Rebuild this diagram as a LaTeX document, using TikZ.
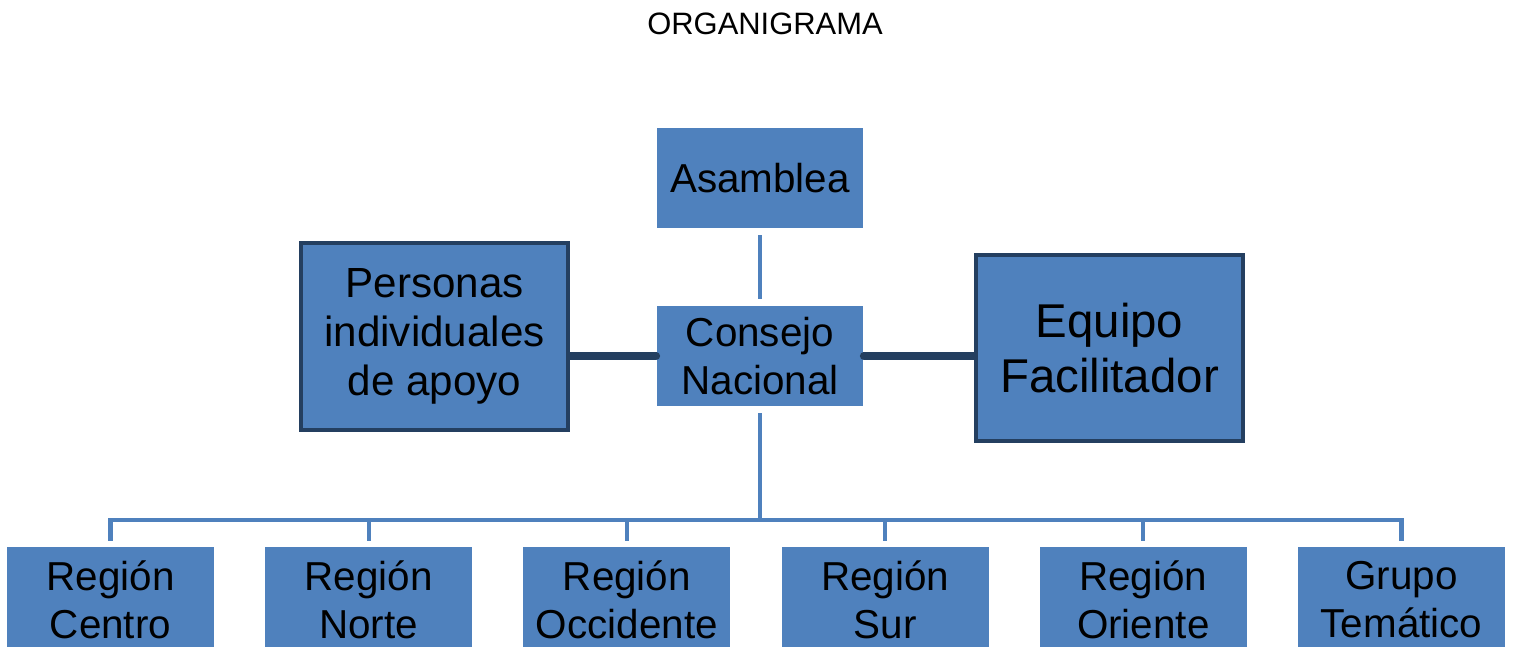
\documentclass[tikz,border=0pt]{standalone}
\usepackage{fontspec}
\setmainfont{Liberation Sans}
\usepackage{tikz}
\definecolor{boxblue}{HTML}{4F81BD}
\definecolor{boxdark}{HTML}{243F60}

\begin{document}
\begin{tikzpicture}[x=0.02cm, y=-0.02cm,
  unit/.style={fill=boxblue, anchor=center, align=center, inner sep=0pt, minimum width=4.14cm, minimum height=2cm, font=\fontsize{23}{27.2}\selectfont},
  side/.style={fill=boxblue, draw=boxdark, line width=2.3pt, align=center, minimum width=5.34cm, minimum height=3.73cm},
  link/.style={draw=boxblue, line width=2.4pt},
  bond/.style={draw=boxdark, line width=4.5pt, line cap=round}]
\useasboundingbox (0,0) rectangle (1515,646);
\clip (0,0) rectangle (1515,646);
\node (T) at (765,24) {\fontsize{17.6}{20}\selectfont ORGANIGRAMA};
\node[unit] (A) at (760,178) {Asamblea};
\node[unit] (C) at (760,356) {Consejo\\Nacional};
\node[side, font=\fontsize{24}{27.8}\selectfont] (P) at (434.5,336.5) {Personas\\individuales\\de apoyo};
\node[side, font=\fontsize{27}{31.7}\selectfont] (E) at (1109.5,348) {Equipo\\Facilitador};
% bottom row
\foreach \t [count=\i] in {{Región\\Centro}, {Región\\Norte}, {Región\\Occidente}, {Región\\Sur}, {Región\\Oriente}, {Grupo\\Temático}}
  \node[unit, minimum height=2.1cm] (R-\i) at ({110.5+258.2*(\i-1)},599.5) {\t};
\coordinate (bar) at (760,520);
\draw[link, shorten <=0.14cm, shorten >=0.14cm] (A) -- (C);
\draw[link, shorten <=0.14cm] (C) -- (bar);
\draw[link, shorten <=0.12cm, shorten >=0.12cm] (R-1.north) -- (bar -| R-1) -- (bar -| R-6) -- (R-6.north);
\foreach \i in {2,...,5}
  \draw[link, shorten >=0.12cm] (bar -| R-\i) -- (R-\i.north);
\draw[bond] (C.west) -- (C.west -| P.east);
\draw[bond] (C.east) -- (C.east -| E.west);
\end{tikzpicture}
\end{document}
